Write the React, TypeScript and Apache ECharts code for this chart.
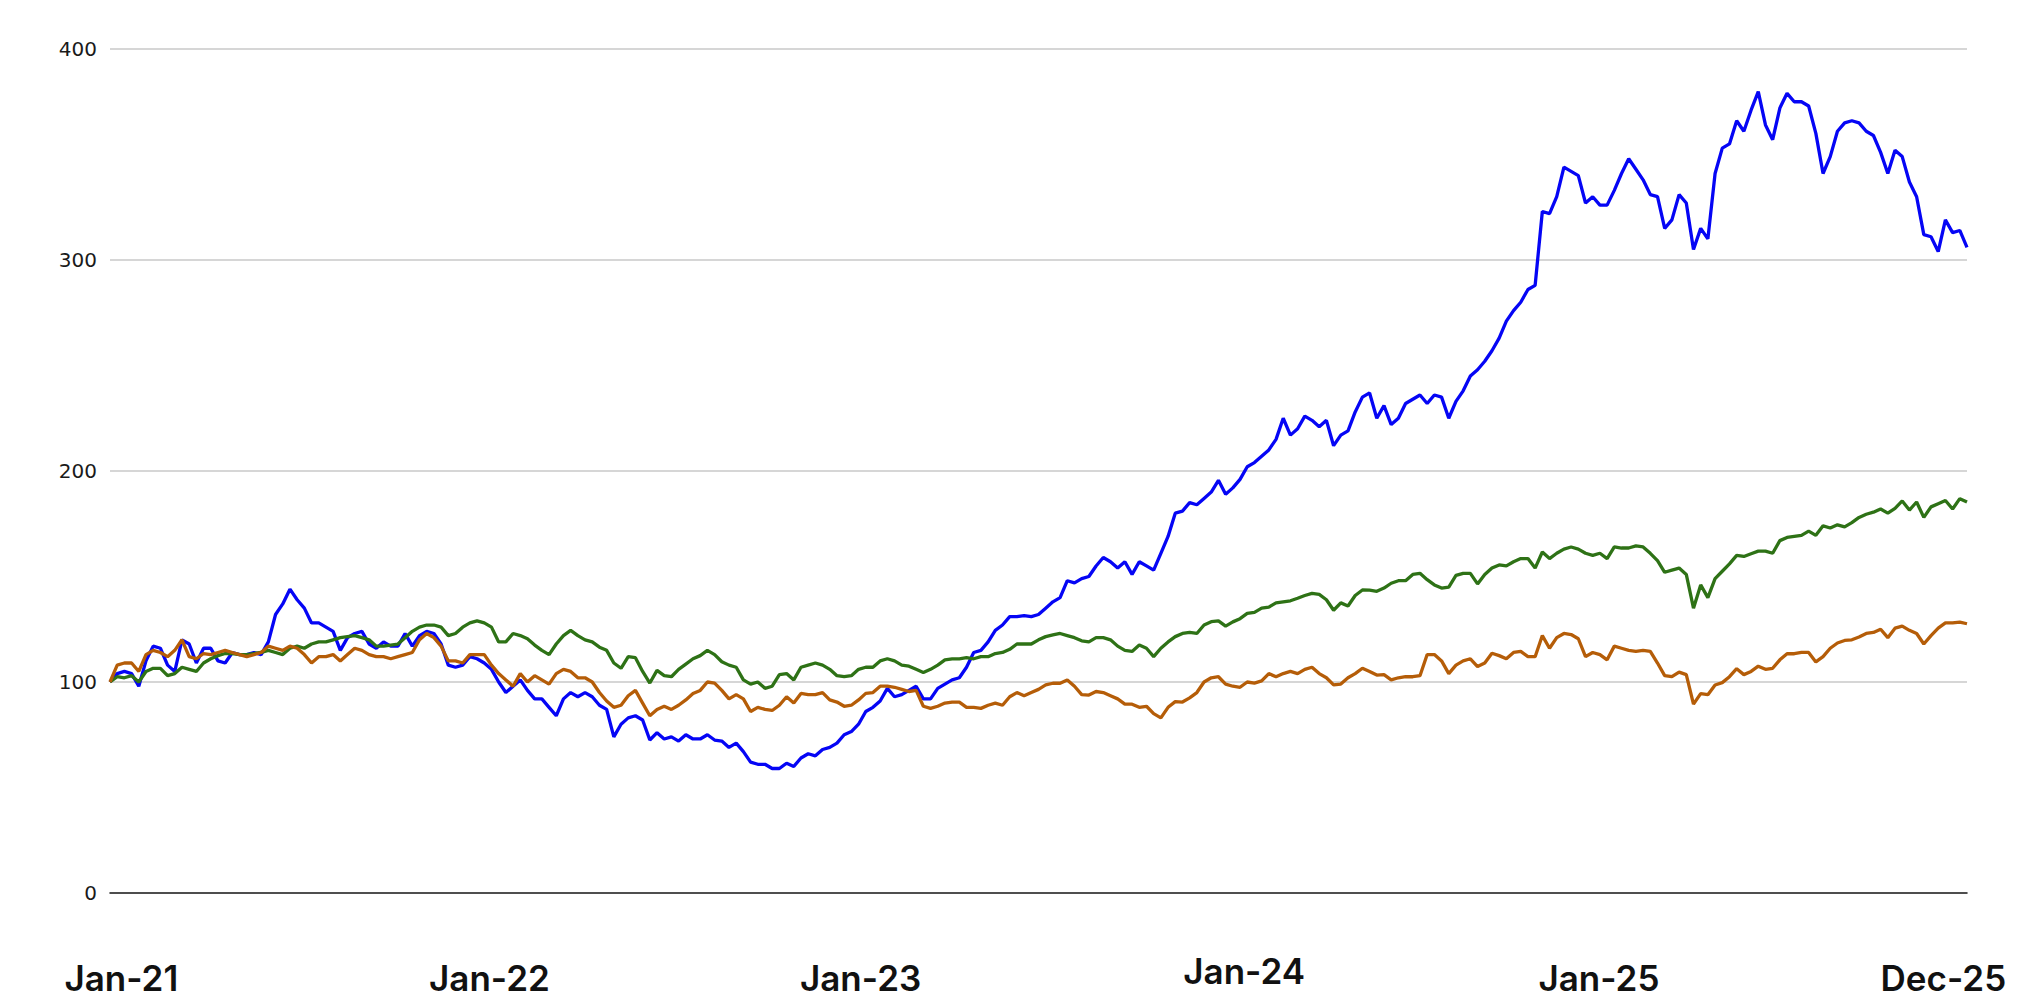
import React, { useEffect, useRef } from "react";
import * as echarts from "echarts";

// Weekly readings (first week: 4 Jan 2021), index = week number
const blueValues = [
  100, 104, 105, 104, 98, 110, 117, 116, 108, 105,
  120, 118, 109, 116, 116, 110, 109, 114, 113, 113,
  114, 113, 119, 132, 137, 144, 139, 135, 128, 128,
  126, 124, 115, 121, 123, 124, 118, 116, 119, 117,
  117, 123, 117, 122, 124, 123, 118, 108, 107, 108,
  112, 111, 109, 106, 100, 95, 98, 101, 96, 92,
  92, 88, 84, 92, 95, 93, 95, 93, 89, 87,
  74,
  80, 83, 84, 82, 72.5, 76, 73, 74, 72,
  75, 73, 73, 75, 72.5, 72, 69, 71, 67, 62,
  61, 61, 59, 59, 61.5, 60, 64, 66, 65, 68,
  69, 71, 75, 76.5, 80, 86, 88, 91, 97, 93,
  94, 96, 98, 92, 92, 97, 99, 101, 102, 107,
  114, 115, 119, 124.5, 127, 131, 131, 131.5, 131, 132,
  135, 138, 140, 148, 147, 149, 150, 155, 159, 157,
  154,
  157, 151, 157, 155, 153, 161, 169, 180, 181,
  185, 184, 187, 190, 195.6, 189, 192, 196, 202, 204,
  207, 210, 215, 225, 217, 220, 226, 224, 221, 224,
  212, 217, 219, 228, 235, 237, 225, 231, 222, 225,
  232, 234, 236, 232, 236, 235, 225, 233, 238, 245,
  248, 252, 257, 263, 271, 276, 280, 286, 288,
  323, 322, 330, 344, 342, 340, 327, 330, 326, 326,
  333, 341, 348, 343, 338, 331, 330, 315, 319, 331,
  327, 305, 315, 310, 341, 353, 355, 366, 361, 371,
  379.8, 364, 357, 372, 379, 375, 375, 373, 360, 341,
  349, 361, 365, 366, 365, 361, 359, 351, 341, 352,
  349, 337, 330, 312, 311, 304, 319, 313, 314, 306,
];

const greenValues = [
  100, 102.5, 102, 103, 100, 105, 106.5, 106.5, 103, 104,
  107, 106, 105, 109, 111, 112.5, 113.5, 113.5, 113, 113,
  113.5, 114, 115, 114, 113, 116, 117, 116, 118, 119,
  119, 120, 121, 121.5, 122, 121, 120, 117, 117, 117.5,
  118, 121, 124, 126, 127, 127, 126, 122, 123, 126,
  128, 129, 128, 126, 119, 119, 123, 122, 120.5, 117.5,
  115, 113, 118, 122, 124.5, 122, 120, 119, 116.5, 115,
  109,
  106.5, 112, 111.5, 105, 99.5, 105.5, 103, 102.5, 106,
  108.5, 111, 112.5, 115, 113, 109.6, 108, 107, 101, 99,
  100, 97, 98, 103.5, 104, 101, 107, 108, 109, 108,
  106, 103, 102.5, 103, 106, 107, 107, 110, 111, 110,
  108, 107.5, 106, 104.5, 106, 108, 110.5, 111, 111, 111.5,
  111, 112, 112, 113.5, 114, 115.5, 118, 118, 118, 120,
  121.5, 122.3, 123, 122, 121, 119.5, 119, 121, 121, 120,
  117,
  115, 114.5, 117.5, 116, 112, 116, 119, 121.5, 123,
  123.5, 123, 127, 128.6, 129, 126.5, 128.5, 130, 132.5, 133,
  135, 135.5, 137.5, 138, 138.5, 139.7, 141, 142, 141.5, 139,
  134, 137.5, 136, 141, 143.6, 143.5, 143, 144.5, 146.8, 148,
  148, 151, 151.5, 148.5, 146, 144.5, 145, 150.5, 151.5, 151.5,
  146.5, 151, 154, 155.5, 155, 157, 158.5, 158.5, 154,
  161.6, 158.5, 161, 163, 164, 163, 161, 160, 161, 158.5,
  164, 163.5, 163.5, 164.5, 164, 161, 157.5, 152, 153, 154,
  151, 135, 146, 140, 149, 152.5, 156, 160, 159.5, 160.8,
  162, 162, 161, 167, 168.5, 169, 169.5, 171.5, 169.5, 174,
  173, 174.5, 173.5, 175.5, 178, 179.5, 180.5, 182, 180, 182.3,
  185.8, 181.5, 185.3, 178, 183, 184.5, 186, 182, 186.9, 185.3,
];

const orangeValues = [
  100, 108, 109, 109, 105, 113, 115, 114, 112, 115,
  120, 112, 111, 113.5, 113, 114, 115, 114, 113, 112,
  113, 114, 117, 116, 115, 117, 116, 113, 109, 112,
  112, 113, 110, 113, 116, 115, 113, 112, 112, 111,
  112, 113, 114, 120, 123, 121, 117, 110, 110, 109,
  113, 113, 113, 108, 104, 101, 98, 104, 100, 103,
  101, 99, 104, 106, 105, 102, 102, 100, 95, 91,
  88,
  89, 93.5, 96, 90, 84, 87, 88.5, 87, 89,
  91.5, 94.5, 96, 100, 99.5, 96, 92, 94, 92, 86,
  88, 87, 86.5, 89, 93, 90, 94.6, 94, 94, 95,
  91.5, 90.5, 88.5, 89, 91.5, 94.6, 95, 98, 98, 97.5,
  96.5, 95.5, 96, 88.5, 87.5, 88.5, 90, 90.5, 90.5, 88,
  88, 87.5, 89, 90, 89, 93, 95, 93.5, 95, 96.5,
  98.6, 99.4, 99.4, 101, 98, 94, 93.8, 95.5, 95, 93.5,
  92,
  89.5, 89.5, 88, 88.5, 85, 83, 88, 90.7, 90.5,
  92.5, 95, 100, 102, 102.5, 99, 98, 97.5, 100, 99.5,
  100.5, 104, 102.5, 104, 105, 104, 106, 107, 104, 102,
  98.6, 99, 102, 104, 106.5, 105, 103.3, 103.5, 101, 102,
  102.5, 102.5, 103, 113, 113, 110, 104, 108, 110, 111,
  107.3, 109, 113.6, 112.5, 111, 114, 114.5, 112, 112,
  122, 116, 121, 123, 122.5, 120.5, 112, 114, 113, 110.5,
  117, 116, 115, 114.5, 115, 114.5, 109, 103, 102.5, 104.7,
  103.5, 89.5, 94.5, 94, 98.6, 99.7, 102.5, 106.3, 103.5, 105,
  107.5, 106, 106.5, 110.5, 113.4, 113.4, 114, 114, 109.5, 112,
  116, 118.5, 119.7, 120, 121.3, 123, 123.5, 125, 121, 125.5,
  126.5, 124.5, 123, 118, 122, 125.5, 128, 128, 128.4, 127.6,
];

const firstWeek = "2021-01-04";
const tickDates = ["2021-01-15", "2022-01-08", "2023-01-04", "2024-01-12", "2024-12-22", "2025-11-22"];
const tickLabels = ["Jan-21", "Jan-22", "Jan-23", "Jan-24", "Jan-25", "Dec-25"];
const yTicks = [0, 100, 200, 300, 400];

const WEEK_MS = 7 * 24 * 3600 * 1000;
const startMs = Date.parse(firstWeek);
const weekDates = blueValues.map((_, i) => startMs + i * WEEK_MS);
const tickMs = tickDates.map((d) => Date.parse(d));

const pair = (vals: number[]) => vals.map((v, i) => [weekDates[i], v]);

const labelFont = {
  fontFamily: "Inter, 'Noto Sans', sans-serif",
  fontSize: 35,
  fontWeight: 600,
  color: "#111111",
};

export default function App() {
  const ref = useRef<HTMLDivElement>(null);
  useEffect(() => {
    if (!ref.current) return;
    const chart = echarts.init(ref.current, null, { renderer: "svg" });
    chart.setOption({
      animation: false,
      backgroundColor: "#ffffff",
      grid: {
        left: 110,
        right: 61,
        top: 49,
        bottom: 107,
        containLabel: false,
        outerBoundsMode: "none",
      },
      xAxis: {
        type: "value",
        min: weekDates[0],
        max: weekDates[weekDates.length - 1],
        axisLine: { show: true, onZero: false, lineStyle: { color: "#222222", width: 1.6 } },
        axisTick: { show: false },
        splitLine: { show: false },
        axisLabel: {
          customValues: tickMs,
          margin: 85,
          verticalAlign: "middle",
          hideOverlap: false,
          formatter: (val: number) => {
            let best = 0;
            for (let i = 1; i < tickMs.length; i++) {
              if (Math.abs(tickMs[i] - val) < Math.abs(tickMs[best] - val)) best = i;
            }
            return best === 3 ? `{up|${tickLabels[best]}}` : `{n|${tickLabels[best]}}`;
          },
          rich: {
            n: { ...labelFont, lineHeight: 30 },
            up: { ...labelFont, lineHeight: 16, padding: [0, 0, 14, 0] },
          },
        },
      },
      yAxis: {
        type: "value",
        min: yTicks[0],
        max: yTicks[yTicks.length - 1],
        interval: 100,
        axisLine: { show: false },
        axisTick: { show: false },
        splitLine: { show: true, lineStyle: { color: "#c8c8c8", width: 1.5 } },
        axisLabel: {
          margin: 13,
          fontFamily: "'DejaVu Sans', sans-serif",
          fontSize: 20,
          color: "#1a1a1a",
        },
      },
      series: [
        {
          type: "line",
          data: pair(blueValues),
          showSymbol: false,
          lineStyle: { color: "#0505f5", width: 3.3 },
          itemStyle: { color: "#0505f5" },
          z: 2,
        },
        {
          type: "line",
          data: pair(greenValues),
          showSymbol: false,
          lineStyle: { color: "#2e7216", width: 3.3 },
          itemStyle: { color: "#2e7216" },
          z: 3,
        },
        {
          type: "line",
          data: pair(orangeValues),
          showSymbol: false,
          lineStyle: { color: "#b55d08", width: 3.3 },
          itemStyle: { color: "#b55d08" },
          z: 4,
        },
      ],
    });
    return () => chart.dispose();
  }, []);
  return (
    <div
      ref={ref}
      style={{ position: "absolute", left: 0, top: 0, width: 2028, height: 1000, background: "#ffffff" }}
    />
  );
}
